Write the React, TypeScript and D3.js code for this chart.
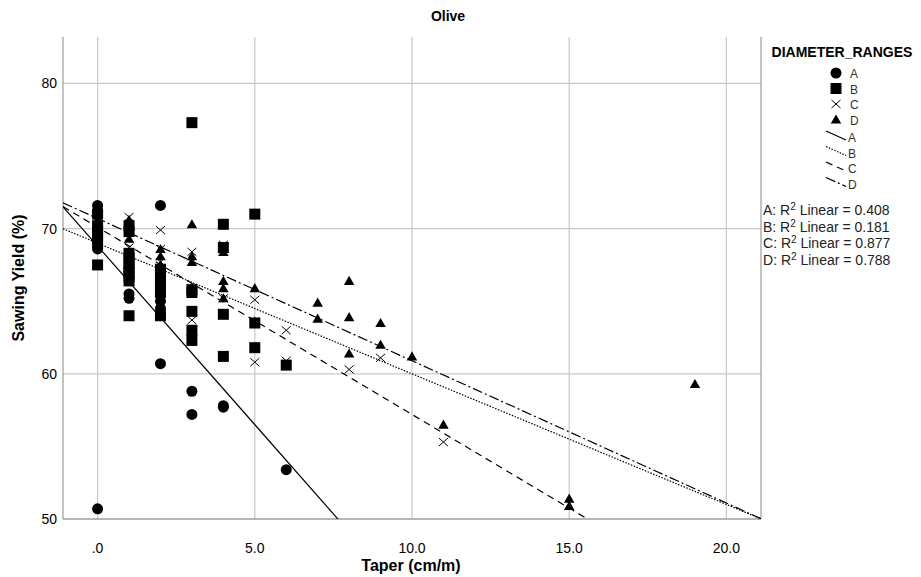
import React from "react";
import * as d3 from "d3";

// taper (cm/m) and sawing yield (%) per diameter range
const aX = [0, 0, 0, 0, 1, 1, 2, 2, 2, 2, 3, 3, 4, 4, 6];
const aY = [71.6, 71.2, 68.6, 50.7, 65.5, 65.2, 71.6, 65.0, 64.5, 60.7, 58.8, 57.2, 57.8, 57.7, 53.4];

const bX = [0, 0, 0, 0, 0, 0, 1, 1, 1, 1, 1, 1, 1, 1, 1, 1, 2, 2, 2, 2, 2, 2, 3, 3, 3, 3, 3, 3, 4, 4, 4, 4, 5, 5, 5, 6];
const bY = [71.0, 70.2, 69.8, 69.5, 69.0, 67.5, 70.2, 69.8, 68.3, 68.0, 67.6, 67.3, 67.0, 66.7, 66.4, 64.0,
  67.2, 66.8, 66.4, 66.0, 65.6, 64.0, 77.3, 65.8, 65.6, 64.3, 63.0, 62.3, 70.3, 68.7, 64.1, 61.2, 71.0, 63.5, 61.8, 60.6];

const cX = [0, 0, 1, 1, 1, 1, 1, 2, 2, 2, 2, 3, 3, 4, 4, 5, 5, 5, 6, 6, 8, 9, 11];
const cY = [71.3, 70.5, 70.8, 70.3, 69.8, 68.7, 68.3, 69.9, 68.6, 67.7, 67.3, 68.4, 63.7, 68.9, 65.2, 65.1, 63.6, 60.8, 63.0, 60.9, 60.3, 61.1, 55.3];

const dX = [0, 0, 1, 1, 2, 2, 2, 3, 3, 3, 4, 4, 4, 4, 5, 5, 7, 7, 8, 8, 8, 9, 9, 10, 11, 15, 15, 19];
const dY = [71.6, 70.6, 70.6, 69.3, 68.6, 68.1, 67.5, 70.3, 68.1, 67.7, 68.4, 66.4, 65.9, 65.2, 65.9, 63.6,
  64.9, 63.8, 66.4, 63.9, 61.4, 63.5, 62.0, 61.2, 56.5, 51.4, 50.9, 59.3];

// fitted lines: intercept, slope
const groups = ["A", "B", "C", "D"];
const intercepts = [68.8, 69.0, 70.1, 70.7];
const slopes = [-2.46, -0.9, -1.29, -0.98];
const r2 = ["0.408", "0.181", "0.877", "0.788"];

const xTicks = [0, 5, 10, 15, 20];
const xTickLabels = [".0", "5.0", "10.0", "15.0", "20.0"];
const yTicks = [50, 60, 70, 80];

const dashes = [null, "1.5,1.5", "7,5", "10,3,2,3"];
const font = "'Liberation Sans', Arial, sans-serif";

const left = 63, right = 761, top = 37, bottom = 519;

const Marker = ({ kind, cx, cy }) => {
  if (kind === 0) return <circle cx={cx} cy={cy} r={5.5} fill="#000" />;
  if (kind === 1) return <rect x={cx - 5.5} y={cy - 5.5} width={11} height={11} fill="#000" />;
  if (kind === 2)
    return (
      <path d={`M${cx - 4.5},${cy - 4}L${cx + 4.5},${cy + 4}M${cx + 4.5},${cy - 4}L${cx - 4.5},${cy + 4}`}
        stroke="#000" strokeWidth={1} fill="none" />
    );
  return <path d={d3.symbol(d3.symbolTriangle, 48)()} transform={`translate(${cx},${cy + 1})`} fill="#000" />;
};

export default function App() {
  const x = d3.scaleLinear().domain([-1.1, 21.1]).range([left, right]);
  const y = d3.scaleLinear().domain([50, 83.2]).range([bottom, top]);
  const sets = [[aX, aY], [bX, bY], [cX, cY], [dX, dY]];
  const grid = "#c8c8c8";

  return (
    <svg width={921} height={577} style={{ position: "absolute", left: 0, top: 0, background: "#fff" }} fontFamily={font}>
      <defs>
        <clipPath id="plot">
          <rect x={left} y={top} width={right - left} height={bottom - top} />
        </clipPath>
      </defs>
      <text x={448} y={21} textAnchor="middle" fontWeight="bold" fontSize={14}>Olive</text>

      {xTicks.map((t) => (
        <line key={"gx" + t} x1={x(t)} x2={x(t)} y1={top} y2={bottom} stroke={grid} strokeWidth={1.2} />
      ))}
      {yTicks.map((t) => (
        <line key={"gy" + t} x1={left} x2={right} y1={y(t)} y2={y(t)} stroke={grid} strokeWidth={1.2} />
      ))}
      <line x1={left} x2={left} y1={top} y2={bottom} stroke="#888" />
      <line x1={right} x2={right} y1={top} y2={bottom} stroke="#888" />
      <line x1={left} x2={right} y1={bottom} y2={bottom} stroke="#888" />

      {xTicks.map((t, i) => (
        <text key={"tx" + t} x={x(t)} y={553} textAnchor="middle" fontSize={14}>{xTickLabels[i]}</text>
      ))}
      {yTicks.map((t) => (
        <text key={"ty" + t} x={57} y={y(t) + 5} textAnchor="end" fontSize={14}>{t}</text>
      ))}
      <text x={411} y={571} textAnchor="middle" fontWeight="bold" fontSize={16}>Taper (cm/m)</text>
      <text transform={`translate(24,${(top + bottom) / 2}) rotate(-90)`} textAnchor="middle" fontWeight="bold" fontSize={16}>
        Sawing Yield (%)
      </text>

      <g clipPath="url(#plot)">
        {groups.map((g, i) => {
          const x0 = -1.1, x1 = 21.1;
          return (
            <line key={"fit" + g} x1={x(x0)} y1={y(intercepts[i] + slopes[i] * x0)} x2={x(x1)} y2={y(intercepts[i] + slopes[i] * x1)}
              stroke="#000" strokeWidth={1.2} strokeDasharray={dashes[i] || undefined} />
          );
        })}
        {sets.map(([xs, ys], k) =>
          xs.map((v, j) => <Marker key={k + "-" + j} kind={k} cx={x(v)} cy={y(ys[j])} />)
        )}
      </g>

      <text x={842} y={57} textAnchor="middle" fontWeight="bold" fontSize={14}>DIAMETER_RANGES</text>
      {groups.map((g, i) => (
        <g key={"lm" + g}>
          <Marker kind={i} cx={836} cy={73 + i * 15.5} />
          <text x={850} y={78 + i * 15.5} fontSize={12} fill="#333">{g}</text>
        </g>
      ))}
      {groups.map((g, i) => (
        <g key={"ll" + g}>
          <line x1={826} y1={131 + i * 15.5} x2={846} y2={140 + i * 15.5} stroke="#000" strokeWidth={1.2}
            strokeDasharray={dashes[i] || undefined} />
          <text x={848} y={142 + i * 15.5} fontSize={12} fill="#333">{g}</text>
        </g>
      ))}
      {groups.map((g, i) => (
        <text key={"r2" + g} x={763} y={215 + i * 16.7} fontSize={14} fill="#222">
          {g}: R<tspan dy={-5} fontSize={10}>2</tspan><tspan dy={5}> Linear = {r2[i]}</tspan>
        </text>
      ))}
    </svg>
  );
}
